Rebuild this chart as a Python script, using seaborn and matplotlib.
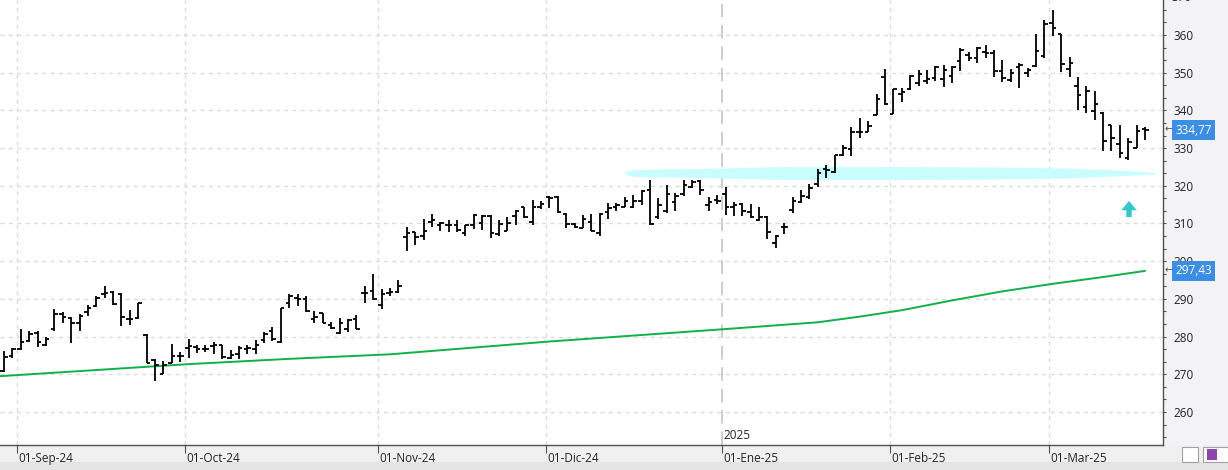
import numpy as np
import pandas as pd
import matplotlib
matplotlib.use("Agg")
import matplotlib.pyplot as plt
import seaborn as sns
from matplotlib.ticker import MultipleLocator, FixedLocator
from matplotlib.patches import Rectangle, FancyArrow

# ---------------- data ----------------
opens = [271.0, 274.8, 276.6, 278.8, 281.0, 277.8, 281.9, 286.1, 285.0, 283.7,
         286.6, 288.1, 291.2, 291.8, 291.2, 284.7, 285.0, 280.3, 273.9, 270.2,
         273.1, 274.8, 277.0, 277.3, 276.8, 277.5, 277.7, 274.4, 275.3, 276.8,
         276.8, 279.1, 281.5, 278.5, 289.0, 290.3, 290.0, 284.6, 286.3, 283.0,
         281.0, 281.9, 284.6, 291.6, 292.1, 288.5, 291.6, 291.8, 306.4, 307.7,
         306.8, 310.3, 309.7, 309.7, 309.7, 307.4, 309.7, 310.1, 312.1, 307.2,
         308.1, 312.1, 314.3, 310.5, 314.5, 316.9, 316.9, 312.5, 309.8, 308.8,
         310.5, 307.4, 313.0, 314.5, 314.5, 314.5, 316.0, 318.9, 311.6, 313.2,
         315.8, 317.8, 319.8, 321.3, 314.8, 316.3, 317.8, 314.5, 315.1, 313.0,
         311.0, 311.6, 304.9, 309.1, 313.5, 315.7, 317.0, 320.4, 324.5, 323.7,
         328.1, 329.8, 334.4, 334.4, 338.9, 348.9, 339.1, 344.4, 345.8, 347.3,
         347.7, 348.6, 348.2, 349.1, 353.1, 354.7, 354.0, 355.4, 355.1, 350.5,
         348.1, 351.6, 349.8, 351.9, 354.3, 363.1, 360.2, 351.0, 346.5, 341.0,
         339.8, 339.2, 336.1, 331.0, 327.5, 329.9, 335.1]
highs = [276.2, 277.0, 282.1, 281.5, 281.5, 280.0, 287.2, 286.5, 285.3, 286.1,
         288.5, 290.9, 293.4, 292.1, 291.5, 287.0, 289.0, 280.6, 274.1, 273.5,
         278.1, 275.9, 279.3, 277.9, 277.9, 278.5, 277.7, 276.4, 277.5, 277.7,
         279.1, 281.2, 282.6, 287.6, 291.2, 291.2, 290.7, 286.8, 286.3, 283.9,
         285.0, 284.7, 285.6, 293.4, 296.5, 292.7, 293.0, 294.9, 309.0, 307.7,
         311.2, 312.5, 310.5, 311.0, 311.0, 309.7, 312.5, 312.3, 312.3, 311.0,
         311.6, 313.6, 314.5, 316.3, 316.0, 317.4, 317.2, 312.8, 310.1, 312.3,
         312.5, 312.9, 315.4, 315.4, 317.0, 317.6, 318.9, 321.6, 316.7, 320.1,
         318.2, 321.6, 321.6, 321.6, 317.0, 317.6, 319.8, 315.8, 315.4, 315.1,
         314.3, 311.9, 306.9, 310.0, 317.0, 318.8, 320.6, 324.5, 325.4, 328.2,
         330.9, 335.6, 338.0, 337.1, 344.4, 351.1, 345.8, 346.0, 349.5, 350.6,
         350.6, 351.9, 352.1, 351.8, 356.5, 355.4, 356.9, 357.3, 356.0, 353.4,
         351.0, 352.5, 351.3, 360.2, 364.0, 366.6, 360.2, 354.1, 348.9, 346.5,
         345.1, 339.5, 336.1, 336.0, 332.8, 336.1, 335.7]
lows = [270.6, 274.2, 276.4, 278.6, 277.2, 277.5, 281.5, 283.7, 278.4, 281.5,
        285.4, 287.8, 290.3, 288.4, 282.8, 283.2, 284.7, 272.9, 268.2, 270.1,
        273.1, 273.2, 274.2, 275.7, 275.9, 275.3, 274.1, 274.1, 274.1, 275.5,
        275.5, 278.2, 278.8, 278.4, 287.7, 288.1, 286.5, 283.7, 283.7, 281.9,
        280.8, 281.2, 281.9, 289.0, 289.7, 287.2, 290.8, 291.6, 302.6, 304.2,
        305.5, 309.2, 307.9, 307.7, 307.7, 306.6, 308.6, 308.3, 306.1, 306.7,
        307.9, 309.7, 311.4, 309.5, 313.8, 314.1, 312.8, 308.8, 308.8, 308.8,
        307.9, 306.6, 311.2, 313.2, 314.3, 314.1, 315.0, 309.7, 311.3, 312.8,
        313.2, 317.2, 319.4, 317.6, 313.2, 315.1, 312.3, 311.9, 311.9, 311.4,
        310.7, 305.9, 303.5, 307.3, 312.9, 315.5, 316.6, 319.8, 322.1, 323.5,
        327.9, 327.9, 332.7, 334.3, 338.9, 341.5, 339.1, 342.2, 345.3, 346.5,
        347.1, 347.7, 346.2, 347.3, 350.5, 353.2, 352.5, 354.0, 348.9, 347.4,
        347.4, 345.9, 348.9, 351.6, 354.0, 359.6, 350.3, 348.9, 340.1, 339.2,
        337.5, 329.2, 329.1, 327.5, 326.8, 329.9, 332.1]
closes = [274.6, 276.6, 278.6, 280.8, 278.6, 279.4, 285.9, 285.3, 283.7, 285.4,
          287.7, 290.3, 291.6, 288.7, 285.3, 284.6, 288.8, 273.1, 272.4, 272.4,
          274.8, 274.8, 277.5, 276.8, 276.8, 277.9, 274.5, 275.0, 277.0, 277.0,
          277.9, 280.6, 279.3, 287.6, 290.8, 289.9, 286.8, 285.2, 283.7, 282.3,
          283.7, 284.4, 282.1, 291.6, 289.9, 291.2, 291.8, 293.4, 307.6, 306.3,
          308.1, 311.0, 310.1, 309.7, 308.3, 309.7, 312.3, 312.1, 307.4, 309.8,
          310.1, 313.4, 311.6, 314.5, 315.1, 316.7, 313.0, 309.8, 309.2, 311.2,
          308.1, 312.5, 314.1, 315.0, 316.1, 316.0, 318.5, 309.8, 315.0, 317.8,
          317.3, 320.3, 321.0, 318.9, 315.7, 316.0, 314.3, 315.0, 313.2, 311.6,
          311.6, 307.7, 306.8, 309.1, 316.0, 317.3, 319.5, 323.5, 324.1, 328.1,
          330.0, 334.3, 334.4, 335.8, 342.9, 341.8, 345.8, 345.0, 349.1, 349.7,
          348.2, 351.5, 350.6, 351.5, 356.0, 353.8, 356.6, 355.1, 350.5, 348.5,
          349.8, 352.0, 350.7, 355.8, 362.8, 361.8, 352.2, 352.5, 344.1, 345.2,
          341.6, 332.0, 332.8, 328.6, 331.5, 334.5, 334.77]

month_labels = ["01-Sep-24", "01-Oct-24", "01-Nov-24", "01-Dic-24",
                "01-Ene-25", "01-Feb-25", "01-Mar-25"]
month_first_bar = [2, 22, 45, 65, 86, 106, 125]
year_label = "2025"
year_first_bar = 86

ma_bar = [-0.5, 22, 34, 46, 65, 86, 97, 102, 107, 113, 119, 125, 131, 136]
ma_val = [269.5, 272.7, 274.1, 275.3, 278.7, 282.0, 283.8, 285.3, 287.0,
          289.6, 292.0, 294.0, 295.8, 297.43]

last_price = 334.77
last_ma = 297.43
price_label = "334,77"
ma_label = "297,43"
band_level = 323.4
arrow_from, arrow_to = 311.7, 316.0

# ---------------- style ----------------
sns.set_style("white")
plt.rcParams['font.family'] = ['Open Sans', 'DejaVu Sans']

W, H = 1228, 470
fig = plt.figure(figsize=(W / 100, H / 100), dpi=100)
fig.patch.set_facecolor('#f0f0f0')

ax_r = 1163 / W
ax_b = (H - 445) / H

# background panels (drawn below the axes)
fig.patches.append(Rectangle((ax_r, ax_b), 1 - ax_r, 1 - ax_b,
                             transform=fig.transFigure, facecolor='#f3f3f6',
                             edgecolor='none', zorder=-5))
fig.patches.append(Rectangle((0, 0), 1, 8 / H, transform=fig.transFigure,
                             facecolor='#e4e4e4', edgecolor='none', zorder=-5))

ax = fig.add_axes([0, ax_b, ax_r, 1 - ax_b])
ax.set_facecolor('white')

n = len(opens)
idx = np.arange(n)
df = pd.DataFrame({'i': idx, 'open': opens, 'high': highs, 'low': lows, 'close': closes})

# x scale: bar 0 at px 4, 8.39 px per bar
x0 = -4 / 8.39
x1 = (1163 - 4) / 8.39
ax.set_xlim(x0, x1)
ax.set_ylim(251.25, 369.28)

# grid
for v in range(260, 370, 10):
    ax.axhline(v, color='#dcdcdc', lw=1, ls=(0, (3, 3)), zorder=1)
tick_pos = [b - 0.45 for b in month_first_bar]
for p, b in zip(tick_pos, month_first_bar):
    if b == year_first_bar:
        ax.axvline(p, color='#cdcdcd', lw=1.4, ls=(0, (7, 4)), zorder=1)
    else:
        ax.axvline(p, color='#dcdcdc', lw=1, ls=(0, (3, 3)), zorder=1)

# light cyan band (brush stroke)
bx_px = np.array([625, 632, 650, 700, 787, 880, 993, 1065, 1105, 1130, 1156])
bh_px = np.array([1.0, 3.0, 4.0, 4.5, 6.5, 6.5, 6.0, 5.0, 3.5, 2.2, 0.6])
bx = (bx_px - 4) / 8.39
bh = bh_px / 3.77
ax.fill_between(bx, band_level - bh, band_level + bh, color='#c8fcfd',
                lw=0, zorder=2)

# moving average line
ma_df = pd.DataFrame({'i': ma_bar, 'v': ma_val})
sns.lineplot(data=ma_df, x='i', y='v', ax=ax, color='#10b04a', lw=1.4, zorder=3)

# OHLC bars
ax.vlines(df['i'], df['low'], df['high'], color='black', lw=1.3, zorder=4)
ax.hlines(df['open'], df['i'] - 0.42, df['i'], color='black', lw=1.3, zorder=4)
ax.hlines(df['close'], df['i'], df['i'] + 0.42, color='black', lw=1.3, zorder=4)

# cyan arrow
ax.add_patch(FancyArrow((1129 - 4) / 8.39, arrow_from, 0, arrow_to - arrow_from,
                        width=0.65, head_width=1.85, head_length=2.5,
                        length_includes_head=True, color='#36c8c8', lw=0, zorder=5))

# axes styling
ax.set_xlabel('')
ax.set_ylabel('')
for s in ['top', 'left']:
    ax.spines[s].set_visible(False)
for s in ['right', 'bottom']:
    ax.spines[s].set_visible(True)
    ax.spines[s].set_color('#505050')
    ax.spines[s].set_linewidth(1.0)

ax.yaxis.tick_right()
ax.yaxis.set_major_locator(FixedLocator(list(range(260, 370, 10))))
ax.yaxis.set_minor_locator(MultipleLocator(10 / 3))
ax.set_yticklabels([str(v) for v in range(260, 370, 10)])
ax.tick_params(axis='y', which='both', direction='out', length=2.2, width=0.8,
               color='#505050', labelsize=8.5, labelcolor='#222222', pad=5.5,
               right=True, left=False, labelright=True, labelleft=False)

ax.xaxis.set_major_locator(FixedLocator(tick_pos))
ax.tick_params(axis='x', which='both', direction='out', length=5.5, width=0.8,
               color='#505050', labelbottom=False, bottom=True)
for p, lbl in zip(tick_pos, month_labels):
    ax.annotate(lbl, xy=(p, 0), xycoords=('data', 'axes fraction'),
                xytext=(1.3, -5.0), textcoords='offset points', ha='left', va='top',
                fontsize=8.5, color='#222222', annotation_clip=False)

# year label
ax.annotate(year_label, xy=(year_first_bar - 0.45, 0), xycoords=('data', 'axes fraction'),
            xytext=(1.3, 2.5), textcoords='offset points', ha='left', va='bottom',
            fontsize=8.5, color='#222222')

# partial 370 label at top
ytr = ax.get_yaxis_transform()
ax.text(1.0 + 8.2 / 1163, 370, "370", transform=ytr, ha='left', va='center',
        fontsize=8.5, color='#222222', clip_on=False)

# last-value boxes
for val, txt in [(last_price, price_label), (last_ma, ma_label)]:
    ax.text(1.0 + 12 / 1163, val, txt, transform=ytr, ha='left', va='center',
            fontsize=8.5, color='white', clip_on=False, zorder=10,
            bbox=dict(boxstyle='square,pad=0.28', facecolor='#3b8ee4', edgecolor='none'))
    ax.text(1.0 + 1.5 / 1163, val, "\u2190", transform=ytr, ha='left', va='center',
            fontsize=7, color='#555555', clip_on=False, zorder=10)

# bottom-right buttons
fig.patches.append(Rectangle((1182 / W, 8 / H), 16 / W, 15 / H, transform=fig.transFigure,
                             facecolor='white', edgecolor='#a0a0a0', lw=0.8, zorder=1))
fig.patches.append(Rectangle((1203 / W, 8 / H), 25 / W, 15 / H, transform=fig.transFigure,
                             facecolor='white', edgecolor='#a0a0a0', lw=0.8, zorder=1))
fig.patches.append(Rectangle((1207 / W, 10 / H), 10 / W, 11 / H, transform=fig.transFigure,
                             facecolor='#8e44ad', edgecolor='none', zorder=2))

fig.savefig("out.png", dpi=100, facecolor=fig.get_facecolor())
